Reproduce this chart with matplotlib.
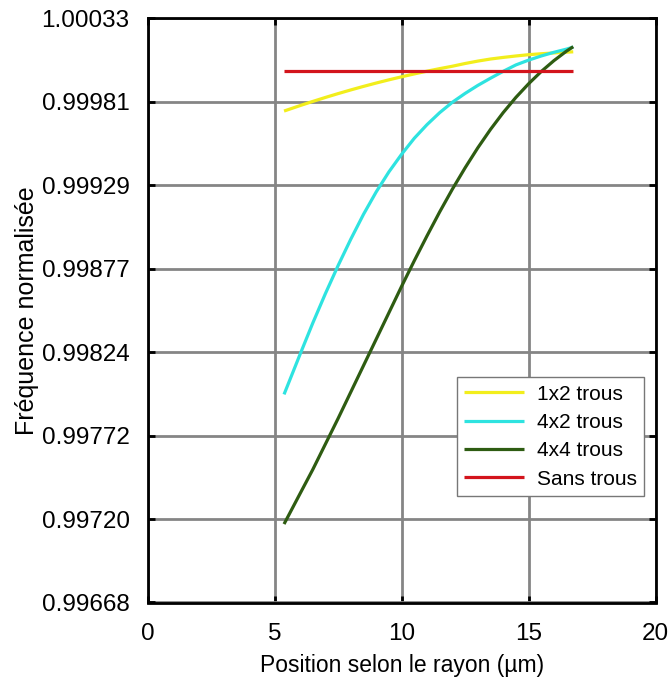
import matplotlib
matplotlib.use("Agg")
import matplotlib.pyplot as plt
import numpy as np

plt.rcParams["font.family"] = ["Liberation Sans", "DejaVu Sans"]

# positions along the radius (um)
x = [5.37, 6.0, 6.5, 7.0, 7.5, 8.0, 8.5, 9.0, 9.5, 10.0, 10.5, 11.0,
     11.5, 12.0, 12.5, 13.0, 13.5, 14.0, 14.5, 15.0, 15.5, 16.0, 16.5, 16.76]

y_1x2 = [0.99975, 0.999784, 0.99981, 0.999835, 0.999859, 0.999882, 0.999904,
         0.999925, 0.999945, 0.999964, 0.999982, 0.999999, 1.000015, 1.00003,
         1.000047, 1.000062, 1.000075, 1.000085, 1.000094, 1.000102, 1.000108,
         1.000113, 1.000118, 1.00012]
y_4x2 = [0.99798, 0.99823, 0.998425, 0.99861, 0.998785, 0.99895, 0.999105,
         0.999245, 0.99937, 0.99948, 0.99958, 0.999665, 0.99974, 0.999805,
         0.99986, 0.99991, 0.999955, 0.999998, 1.000038, 1.000068, 1.000094,
         1.000117, 1.000137, 1.00015]
y_4x4 = [0.99717, 0.99736, 0.99751, 0.99767, 0.99783, 0.997995, 0.99816,
         0.998325, 0.99849, 0.998655, 0.998815, 0.99897, 0.99912, 0.999262,
         0.999395, 0.99952, 0.999635, 0.99974, 0.999835, 0.99992, 0.999997,
         1.000065, 1.000125, 1.000152]
y_sans = [1.0] * len(x)

labels = ["1x2 trous", "4x2 trous", "4x4 trous", "Sans trous"]
colors = ["#f2ee1c", "#2ee3e0", "#2e5c12", "#d3141c"]

y_ticks = np.linspace(0.99668, 1.00033, 8)
y_ticklabels = ["0.99668", "0.99720", "0.99772", "0.99824",
                "0.99877", "0.99929", "0.99981", "1.00033"]
x_ticks = [0, 5, 10, 15, 20]

W, H = 669, 691
fig = plt.figure(figsize=(W / 100, H / 100), dpi=100)
ax = fig.add_axes([147.7 / W, 1 - 602.5 / H, 507.8 / W, 584.3 / H])

for ys, lab, c in zip([y_1x2, y_4x2, y_4x4, y_sans], labels, colors):
    ax.plot(x, ys, color=c, lw=2.3, label=lab, solid_capstyle="butt")

ax.set_xlim(0, 20)
ax.set_ylim(0.99668, 1.00033)
ax.set_xticks(x_ticks)
ax.set_yticks(y_ticks)
ax.set_yticklabels(y_ticklabels)
ax.grid(True, color="#858585", lw=2)
ax.set_axisbelow(True)
for s in ax.spines.values():
    s.set_linewidth(2)
ax.tick_params(direction="in", length=5, width=2, top=True, right=True,
               labelsize=17.5)
ax.tick_params(axis="x", pad=15)
ax.tick_params(axis="y", pad=13)

ax.set_xlabel("Position selon le rayon (µm)", fontsize=16.5, labelpad=6)
ax.set_ylabel("Fréquence normalisée", fontsize=18, labelpad=2)

leg = ax.legend(loc="upper right", bbox_to_anchor=(0.9774, 0.3854),
                borderaxespad=0, fontsize=15, fancybox=False, framealpha=1,
                edgecolor="#777777", handlelength=2.9, handletextpad=0.6,
                borderpad=0.35, labelspacing=0.45)
leg.get_frame().set_linewidth(1)

fig.savefig("out.png", dpi=100)
